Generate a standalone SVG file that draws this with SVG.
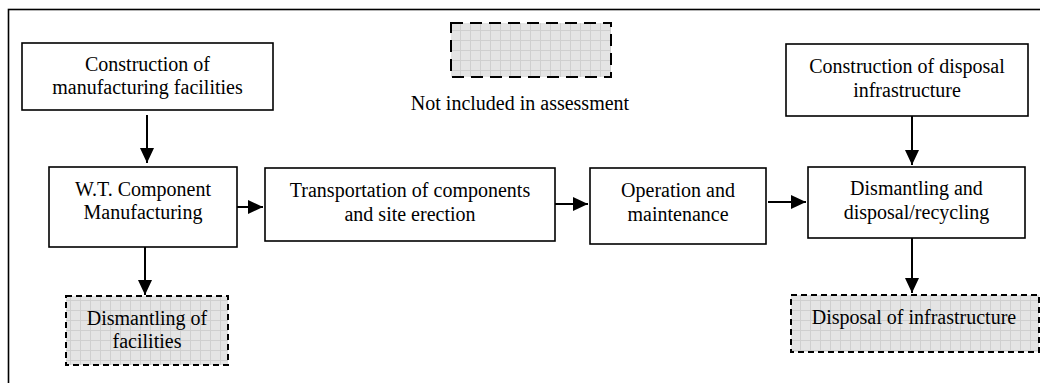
<svg xmlns="http://www.w3.org/2000/svg" width="1040" height="383" viewBox="0 0 1040 383">
<style>
.box{fill:#fff;stroke:#000;stroke-width:1.6}
.ex{fill:url(#grid);stroke:#000;stroke-width:2;stroke-dasharray:6 4}
.lg{fill:url(#grid);stroke:#000;stroke-width:2;stroke-dasharray:12 7}
text{font-family:'Liberation Serif','Tinos','Times New Roman','DejaVu Serif',serif;font-size:20px;fill:#000;text-anchor:middle}
.conn line{stroke:#000;stroke-width:2;marker-end:url(#ah)}
</style>
<defs>
<pattern id="grid" width="10" height="10" patternUnits="userSpaceOnUse">
<rect width="10" height="10" fill="#e4e4e4"/>
<path d="M0 0.5H10M0.5 0V10" stroke="#cfcfcf" stroke-width="1" fill="none"/>
</pattern>
<marker id="ah" markerWidth="15" markerHeight="14" refX="15" refY="7" orient="auto" markerUnits="userSpaceOnUse">
<path d="M0 0L15 7L0 14Z" fill="#000"/>
</marker>
</defs>
<rect x="8.5" y="9.5" width="1040" height="380" fill="none" stroke="#000" stroke-width="1.6"/>
<g id="legend">
<rect class="lg" x="451" y="23" width="160" height="54"/>
<text x="520" y="110">Not included in assessment</text>
</g>
<g id="constr-mfg">
<rect class="box" x="22" y="43" width="251" height="67"/>
<text x="147.5" y="71">Construction of</text>
<text x="147.5" y="94">manufacturing facilities</text>
</g>
<g id="wt-mfg">
<rect class="box" x="49" y="167" width="188" height="80"/>
<text x="143" y="196">W.T. Component</text>
<text x="143" y="219">Manufacturing</text>
</g>
<g id="transport">
<rect class="box" x="265" y="168" width="290" height="73"/>
<text x="410" y="197">Transportation of components</text>
<text x="410" y="221">and site erection</text>
</g>
<g id="operation">
<rect class="box" x="590" y="168" width="176" height="76"/>
<text x="678" y="197">Operation and</text>
<text x="678" y="221">maintenance</text>
</g>
<g id="dismantling">
<rect class="box" x="808" y="167" width="217" height="71"/>
<text x="916.5" y="195">Dismantling and</text>
<text x="916.5" y="219">disposal/recycling</text>
</g>
<g id="constr-disp">
<rect class="box" x="786" y="44" width="242" height="72"/>
<text x="907" y="73">Construction of disposal</text>
<text x="907" y="97">infrastructure</text>
</g>
<g id="dismantle-fac">
<rect class="ex" x="66" y="296" width="162" height="69"/>
<text x="147" y="325">Dismantling of</text>
<text x="147" y="348">facilities</text>
</g>
<g id="disposal-infra">
<rect class="ex" x="791" y="295" width="248" height="57"/>
<text x="914" y="324">Disposal of infrastructure</text>
</g>
<g class="conn" id="connectors">
<line x1="147" y1="115" x2="147" y2="163"/>
<line x1="237" y1="207" x2="263" y2="207"/>
<line x1="555" y1="204" x2="588" y2="204"/>
<line x1="768" y1="202" x2="806" y2="202"/>
<line x1="912" y1="116" x2="912" y2="165"/>
<line x1="145" y1="247" x2="145" y2="295"/>
<line x1="912" y1="238" x2="912" y2="293"/>
</g>
</svg>
